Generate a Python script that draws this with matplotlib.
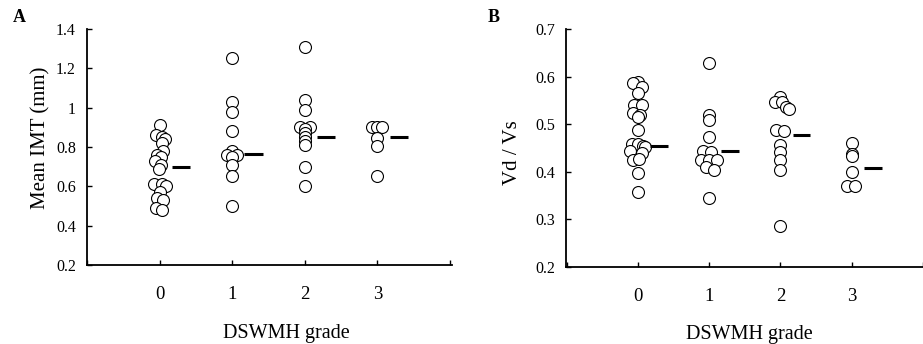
import numpy as np
import matplotlib
matplotlib.use("Agg")
import matplotlib.pyplot as plt
from matplotlib.ticker import FormatStrFormatter, FuncFormatter

plt.rcParams['font.family'] = ['Liberation Serif', 'DejaVu Serif']

grades = [0, 1, 2, 3]
grade_labels = ['0', '1', '2', '3']

# Panel A: mean IMT (mm) per DSWMH grade
imt_g0 = [0.91, 0.86, 0.85, 0.84, 0.82, 0.78, 0.76, 0.75, 0.73, 0.71,
          0.69, 0.61, 0.61, 0.60, 0.57, 0.54, 0.53, 0.49, 0.48]
imt_g1 = [1.25, 1.03, 0.98, 0.88, 0.78, 0.76, 0.76, 0.75, 0.71, 0.65, 0.50]
imt_g2 = [1.31, 1.04, 0.99, 0.90, 0.90, 0.89, 0.87, 0.85, 0.83, 0.81, 0.70, 0.60]
imt_g3 = [0.90, 0.90, 0.90, 0.845, 0.805, 0.65]
imt_median = [0.70, 0.765, 0.85, 0.85]

# horizontal scatter of the circles (in grade units)
imt_jit0 = [0.0, -0.05, 0.04, 0.07, 0.03, 0.05, -0.04, 0.02, -0.06, 0.02,
            -0.01, -0.08, 0.03, 0.09, 0.01, -0.03, 0.05, -0.05, 0.04]
imt_jit1 = [0, 0, 0, 0, 0, -0.07, 0.06, 0.0, 0, 0, 0]
imt_jit2 = [0, 0, 0, -0.07, 0.07, 0.0, 0, 0, 0, 0, 0, 0]
imt_jit3 = [-0.07, 0.0, 0.07, 0, 0, 0]

# Panel B: Vd / Vs per DSWMH grade
vd_g0 = [0.590, 0.586, 0.578, 0.565, 0.540, 0.540, 0.523, 0.520, 0.515, 0.488,
         0.458, 0.458, 0.455, 0.452, 0.445, 0.440, 0.425, 0.427, 0.397, 0.358]
vd_g1 = [0.630, 0.519, 0.509, 0.474, 0.444, 0.442, 0.425, 0.425, 0.424, 0.410, 0.405, 0.345]
vd_g2 = [0.557, 0.546, 0.548, 0.537, 0.533, 0.489, 0.487, 0.456, 0.442, 0.426, 0.405, 0.286]
vd_g3 = [0.460, 0.438, 0.434, 0.400, 0.371, 0.371]
vd_median = [0.455, 0.443, 0.477, 0.409]

vd_jit0 = [0.0, -0.07, 0.05, 0.0, -0.06, 0.05, -0.07, 0.03, 0.0, 0.0,
           -0.09, 0.0, 0.07, 0.10, -0.11, 0.05, -0.07, 0.02, 0.0, 0.0]
vd_jit1 = [0, 0, 0, 0, -0.09, 0.03, -0.11, 0.0, 0.11, -0.05, 0.07, 0]
vd_jit2 = [0.0, -0.08, 0.02, 0.08, 0.12, -0.06, 0.05, 0, 0, 0, 0, 0]
vd_jit3 = [0, 0, 0, 0, -0.06, 0.05]

fig = plt.figure(figsize=(9.23, 3.44), dpi=100)
axA = fig.add_axes([0.0943, 0.2297, 0.3954, 0.686])
axB = fig.add_axes([0.6132, 0.2238, 0.3868, 0.6912])


def draw_panel(ax, groups, jitters, medians, ylim, yticks, fmt, ylabel, xlim):
    for g, vals, jit in zip(grades, groups, jitters):
        x = g + np.array(jit)
        ax.plot(x, vals, 'o', ms=8.6, mfc='white', mec='black', mew=0.8,
                linestyle='none', clip_on=False)
    for g, m in zip(grades, medians):
        ax.plot([g + 0.17, g + 0.42], [m, m], color='black', lw=2.2,
                solid_capstyle='butt')
    ax.set_xlim(*xlim)
    ax.set_ylim(*ylim)
    ax.set_yticks(yticks)
    ax.yaxis.set_major_formatter(fmt)
    ax.set_xticks([-1, 0, 1, 2, 3, 4])
    ax.set_xticklabels([''] + grade_labels + [''])
    for s in ['top', 'right']:
        ax.spines[s].set_visible(False)
    ax.spines['left'].set_linewidth(1.3)
    ax.spines['bottom'].set_linewidth(1.3)
    ax.tick_params(axis='y', direction='in', length=3.5, width=1.0,
                   labelsize=11.5, pad=8)
    ax.tick_params(axis='x', direction='in', length=3.5, width=1.0,
                   labelsize=13.5, pad=15)
    ax.set_ylabel(ylabel, fontsize=15)
    ax.set_xlabel('DSWMH grade', fontsize=14.5)


draw_panel(axA, [imt_g0, imt_g1, imt_g2, imt_g3],
           [imt_jit0, imt_jit1, imt_jit2, imt_jit3], imt_median,
           (0.2, 1.4), [0.2, 0.4, 0.6, 0.8, 1.0, 1.2, 1.4],
           FuncFormatter(lambda v, p: '%g' % round(v, 2)),
           'Mean IMT (mm)', (-0.97, 4.03))
axA.xaxis.set_label_coords(0.545, -0.25)
axA.yaxis.set_label_coords(-0.10, 0.54)

draw_panel(axB, [vd_g0, vd_g1, vd_g2, vd_g3],
           [vd_jit0, vd_jit1, vd_jit2, vd_jit3], vd_median,
           (0.2, 0.7), [0.2, 0.3, 0.4, 0.5, 0.6, 0.7],
           FormatStrFormatter('%.1f'),
           'Vd / Vs', (-1.01, 3.88))
axB.xaxis.set_label_coords(0.515, -0.245)
axB.yaxis.set_label_coords(-0.123, 0.48)

fig.text(0.014, 0.95, 'A', fontsize=13, fontweight='bold', va='center')
fig.text(0.528, 0.95, 'B', fontsize=13, fontweight='bold', va='center')

fig.savefig('out.png', dpi=100)
